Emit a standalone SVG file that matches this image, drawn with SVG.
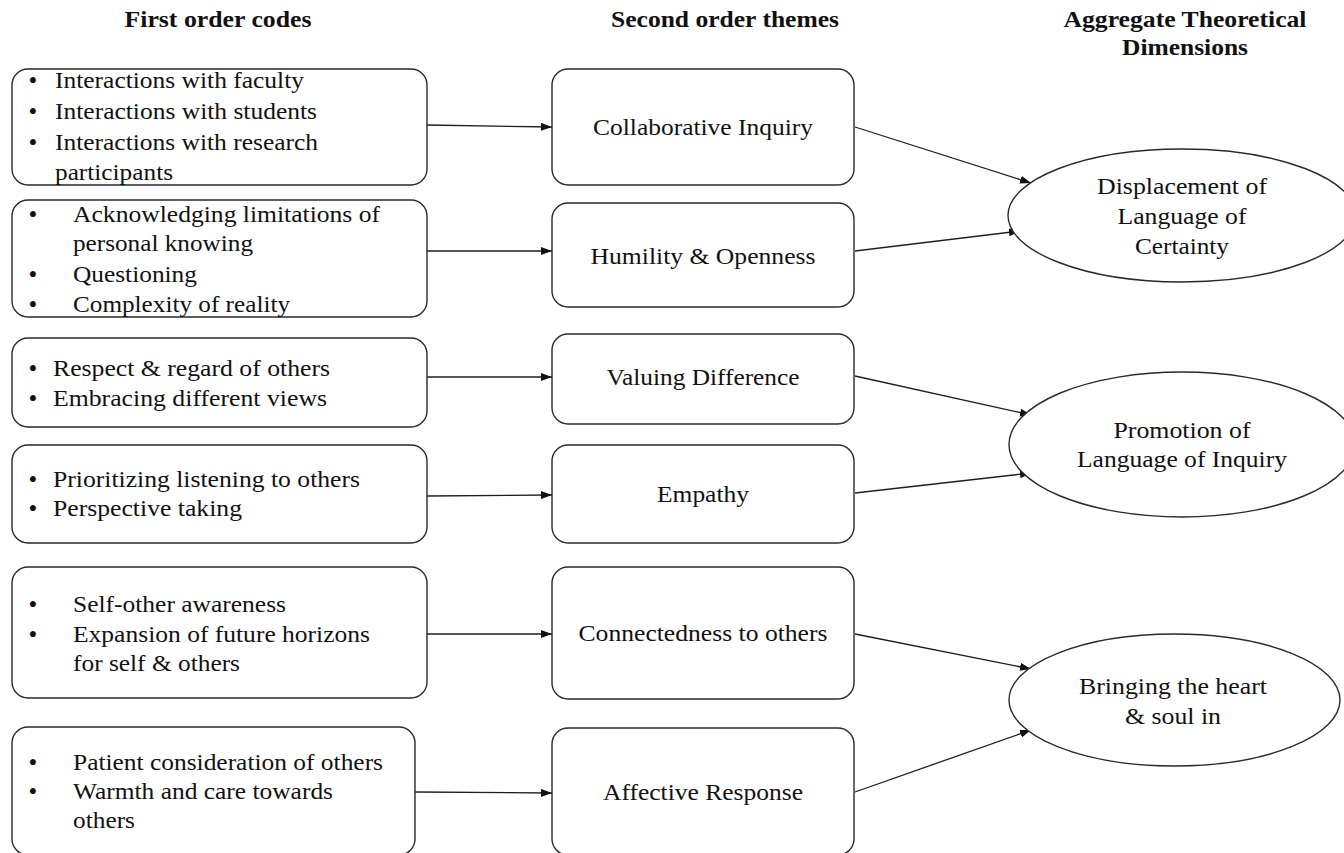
<svg xmlns="http://www.w3.org/2000/svg" width="1344" height="853" viewBox="0 0 1344 853">
<style>
.bg{fill:#ffffff}
.box{fill:#ffffff;stroke:#2a2a2a;stroke-width:1.4}
.ell{fill:#ffffff;stroke:#2a2a2a;stroke-width:1.4}
.con{stroke:#1e1e1e;stroke-width:1.3;fill:none;marker-end:url(#arr)}
text{font-family:"Liberation Serif","Times New Roman",serif;fill:#111111}
.t{font-size:23px}
.c{font-size:23px;text-anchor:middle}
.b{font-size:25px;text-anchor:middle}
.h{font-size:24px;font-weight:bold;text-anchor:middle}
</style>
<defs>
<marker id="arr" markerUnits="userSpaceOnUse" markerWidth="11" markerHeight="8" refX="11" refY="4" orient="auto">
<path d="M0,0 L11,4 L0,8 z" fill="#111111"/>
</marker>
</defs>
<rect class="bg" x="0" y="0" width="1344" height="853"/>

<g id="headers">
<text class="h" x="218" y="27" textLength="187" lengthAdjust="spacingAndGlyphs">First order codes</text>
<text class="h" x="725" y="27" textLength="228" lengthAdjust="spacingAndGlyphs">Second order themes</text>
<text class="h" x="1185" y="27" textLength="243" lengthAdjust="spacingAndGlyphs">Aggregate Theoretical</text>
<text class="h" x="1185" y="55" textLength="126" lengthAdjust="spacingAndGlyphs">Dimensions</text>
</g>

<g id="connectors">
<line class="con" x1="427" y1="125" x2="552" y2="127"/>
<line class="con" x1="427" y1="251" x2="552" y2="251"/>
<line class="con" x1="427" y1="377" x2="552" y2="377"/>
<line class="con" x1="427" y1="496" x2="552" y2="495"/>
<line class="con" x1="427" y1="634" x2="552" y2="634"/>
<line class="con" x1="415" y1="792" x2="552" y2="793"/>
<line class="con" x1="855" y1="127" x2="1031" y2="183"/>
<line class="con" x1="855" y1="251" x2="1020" y2="231"/>
<line class="con" x1="855" y1="376" x2="1031" y2="415"/>
<line class="con" x1="855" y1="493" x2="1031" y2="473"/>
<line class="con" x1="855" y1="634" x2="1031" y2="669"/>
<line class="con" x1="855" y1="792" x2="1031" y2="730"/>
</g>

<g id="code1">
<rect class="box" x="12" y="69" width="415" height="116" rx="16"/>
<text class="b" x="33" y="89">•</text>
<text class="b" x="33" y="120">•</text>
<text class="b" x="33" y="151">•</text>
<text class="t" x="55" y="88" textLength="249" lengthAdjust="spacingAndGlyphs">Interactions with faculty</text>
<text class="t" x="55" y="119" textLength="262" lengthAdjust="spacingAndGlyphs">Interactions with students</text>
<text class="t" x="55" y="150" textLength="263" lengthAdjust="spacingAndGlyphs">Interactions with research</text>
<text class="t" x="55" y="180" textLength="118" lengthAdjust="spacingAndGlyphs">participants</text>
</g>

<g id="code2">
<rect class="box" x="12" y="200" width="415" height="117" rx="16"/>
<text class="b" x="33" y="223">•</text>
<text class="b" x="33" y="283">•</text>
<text class="b" x="33" y="313">•</text>
<text class="t" x="73" y="222" textLength="307" lengthAdjust="spacingAndGlyphs">Acknowledging limitations of</text>
<text class="t" x="73" y="251" textLength="180" lengthAdjust="spacingAndGlyphs">personal knowing</text>
<text class="t" x="73" y="282" textLength="124" lengthAdjust="spacingAndGlyphs">Questioning</text>
<text class="t" x="73" y="312" textLength="217" lengthAdjust="spacingAndGlyphs">Complexity of reality</text>
</g>

<g id="code3">
<rect class="box" x="12" y="338" width="415" height="89" rx="16"/>
<text class="b" x="33" y="377">•</text>
<text class="b" x="33" y="407">•</text>
<text class="t" x="53" y="376" textLength="277" lengthAdjust="spacingAndGlyphs">Respect &amp; regard of others</text>
<text class="t" x="53" y="406" textLength="274" lengthAdjust="spacingAndGlyphs">Embracing different views</text>
</g>

<g id="code4">
<rect class="box" x="12" y="445" width="415" height="98" rx="16"/>
<text class="b" x="33" y="488">•</text>
<text class="b" x="33" y="517">•</text>
<text class="t" x="53" y="487" textLength="307" lengthAdjust="spacingAndGlyphs">Prioritizing listening to others</text>
<text class="t" x="53" y="516" textLength="189" lengthAdjust="spacingAndGlyphs">Perspective taking</text>
</g>

<g id="code5">
<rect class="box" x="12" y="567" width="415" height="131" rx="16"/>
<text class="b" x="33" y="613">•</text>
<text class="b" x="33" y="643">•</text>
<text class="t" x="73" y="612" textLength="213" lengthAdjust="spacingAndGlyphs">Self-other awareness</text>
<text class="t" x="73" y="642" textLength="297" lengthAdjust="spacingAndGlyphs">Expansion of future horizons</text>
<text class="t" x="73" y="671" textLength="167" lengthAdjust="spacingAndGlyphs">for self &amp; others</text>
</g>

<g id="code6">
<rect class="box" x="12" y="727" width="403" height="128" rx="16"/>
<text class="b" x="33" y="771">•</text>
<text class="b" x="33" y="800">•</text>
<text class="t" x="73" y="770" textLength="310" lengthAdjust="spacingAndGlyphs">Patient consideration of others</text>
<text class="t" x="73" y="799" textLength="260" lengthAdjust="spacingAndGlyphs">Warmth and care towards</text>
<text class="t" x="73" y="828" textLength="62" lengthAdjust="spacingAndGlyphs">others</text>
</g>

<g id="theme1">
<rect class="box" x="552" y="69" width="302" height="116" rx="16"/>
<text class="c" x="703" y="135" textLength="220" lengthAdjust="spacingAndGlyphs">Collaborative Inquiry</text>
</g>
<g id="theme2">
<rect class="box" x="552" y="203" width="302" height="104" rx="16"/>
<text class="c" x="703" y="264" textLength="225" lengthAdjust="spacingAndGlyphs">Humility &amp; Openness</text>
</g>
<g id="theme3">
<rect class="box" x="552" y="334" width="302" height="90" rx="16"/>
<text class="c" x="703" y="385" textLength="193" lengthAdjust="spacingAndGlyphs">Valuing Difference</text>
</g>
<g id="theme4">
<rect class="box" x="552" y="445" width="302" height="98" rx="16"/>
<text class="c" x="703" y="502" textLength="92" lengthAdjust="spacingAndGlyphs">Empathy</text>
</g>
<g id="theme5">
<rect class="box" x="552" y="567" width="302" height="132" rx="16"/>
<text class="c" x="703" y="641" textLength="249" lengthAdjust="spacingAndGlyphs">Connectedness to others</text>
</g>
<g id="theme6">
<rect class="box" x="552" y="728" width="302" height="127" rx="16"/>
<text class="c" x="703" y="800" textLength="200" lengthAdjust="spacingAndGlyphs">Affective Response</text>
</g>

<g id="dim1">
<ellipse class="ell" cx="1182" cy="215.5" rx="174" ry="66.5"/>
<text class="c" x="1182" y="194" textLength="170" lengthAdjust="spacingAndGlyphs">Displacement of</text>
<text class="c" x="1182" y="224" textLength="129" lengthAdjust="spacingAndGlyphs">Language of</text>
<text class="c" x="1182" y="254" textLength="94" lengthAdjust="spacingAndGlyphs">Certainty</text>
</g>
<g id="dim2">
<ellipse class="ell" cx="1182" cy="444.5" rx="173" ry="72.5"/>
<text class="c" x="1182" y="438" textLength="137" lengthAdjust="spacingAndGlyphs">Promotion of</text>
<text class="c" x="1182" y="467" textLength="210" lengthAdjust="spacingAndGlyphs">Language of Inquiry</text>
</g>
<g id="dim3">
<ellipse class="ell" cx="1174.5" cy="700" rx="165.5" ry="66"/>
<text class="c" x="1173" y="694" textLength="188" lengthAdjust="spacingAndGlyphs">Bringing the heart</text>
<text class="c" x="1173" y="724" textLength="96" lengthAdjust="spacingAndGlyphs">&amp; soul in</text>
</g>
</svg>
